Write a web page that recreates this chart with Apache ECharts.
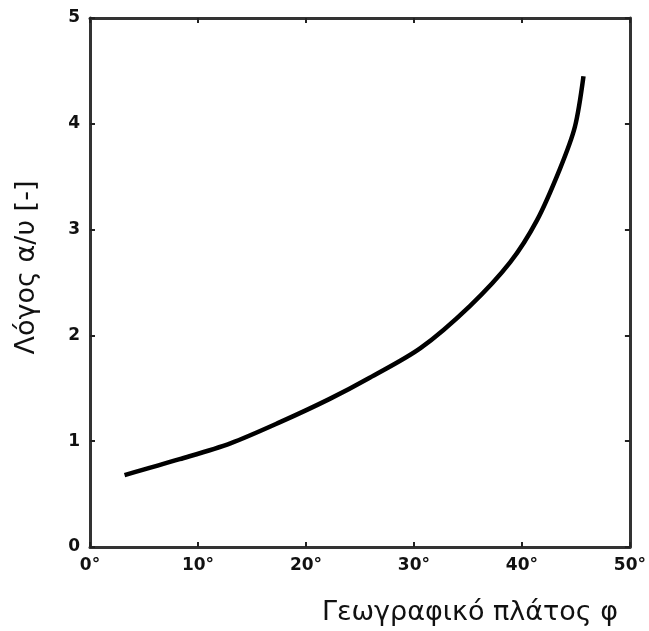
<!DOCTYPE html>
<html>
<head>
<meta charset="utf-8">
<script src="https://cdn.jsdelivr.net/npm/echarts@6/dist/echarts.min.js"></script>
<style>
  html, body { margin: 0; padding: 0; background: #fff; }
  #chart { width: 649px; height: 631px; }
</style>
</head>
<body>
<div id="chart"></div>
<script>
// γεωγραφικό πλάτος (μοίρες) και λόγος α/υ, διαβασμένα από το σχήμα
var latitude = [3.2, 8.3, 13.0, 17.6, 22.2, 25.9, 30.6, 35.2, 38.9, 41.4, 43.5, 44.9, 45.7];
var ratio    = [0.68, 0.83, 0.98, 1.18, 1.40, 1.60, 1.88, 2.28, 2.69, 3.09, 3.57, 3.97, 4.45];

var xTicks = [0, 10, 20, 30, 40, 50];
var yTicks = [0, 1, 2, 3, 4, 5];

var chart = echarts.init(document.getElementById('chart'));

var points = latitude.map(function(x, i) { return [x, ratio[i]]; });

var axisLine = { show: true, onZero: false, lineStyle: { color: '#333', width: 3 } };
var tickIn = { show: true, inside: true, length: 5, lineStyle: { color: '#222', width: 2 } };
var labelStyle = {
	color: '#111',
	fontFamily: 'DejaVu Sans',
	fontWeight: 'bold',
	fontSize: 17,
	margin: 10
};

var option = {
	backgroundColor: '#fff',
	grid: { left: 90, right: 19, top: 18, bottom: 83 },
	xAxis: [{
		type: 'value',
		min: xTicks[0],
		max: xTicks[xTicks.length - 1],
		interval: 10,
		axisLine: axisLine,
		axisTick: tickIn,
		splitLine: { show: false },
		axisLabel: Object.assign({ formatter: '{value}°' }, labelStyle),
		name: 'Γεωγραφικό πλάτος φ',
		nameLocation: 'middle',
		nameGap: 52,
		nameTextStyle: {
			color: '#111',
			fontFamily: 'DejaVu Sans',
			fontSize: 27,
			padding: [0, 0, 0, 220]
		}
	}, {
		type: 'value',
		position: 'top',
		min: 0, max: 50, interval: 10,
		axisLine: axisLine,
		axisTick: tickIn,
		axisLabel: { show: false },
		splitLine: { show: false }
	}],
	yAxis: [{
		type: 'value',
		min: yTicks[0],
		max: yTicks[yTicks.length - 1],
		interval: 1,
		axisLine: axisLine,
		axisTick: tickIn,
		splitLine: { show: false },
		axisLabel: labelStyle,
		name: 'Λόγος α/υ [-]',
		nameLocation: 'middle',
		nameGap: 50,
		nameTextStyle: {
			color: '#111',
			fontFamily: 'DejaVu Sans',
			fontSize: 27,
			padding: [0, 0, 0, 30]
		}
	}, {
		type: 'value',
		position: 'right',
		min: 0, max: 5, interval: 1,
		axisLine: axisLine,
		axisTick: tickIn,
		axisLabel: { show: false },
		splitLine: { show: false }
	}],
	series: [{
		type: 'line',
		data: points,
		smooth: 0.3,
		showSymbol: false,
		lineStyle: { color: '#000', width: 4.5 }
	}]
};

chart.setOption(option);
</script>
</body>
</html>
